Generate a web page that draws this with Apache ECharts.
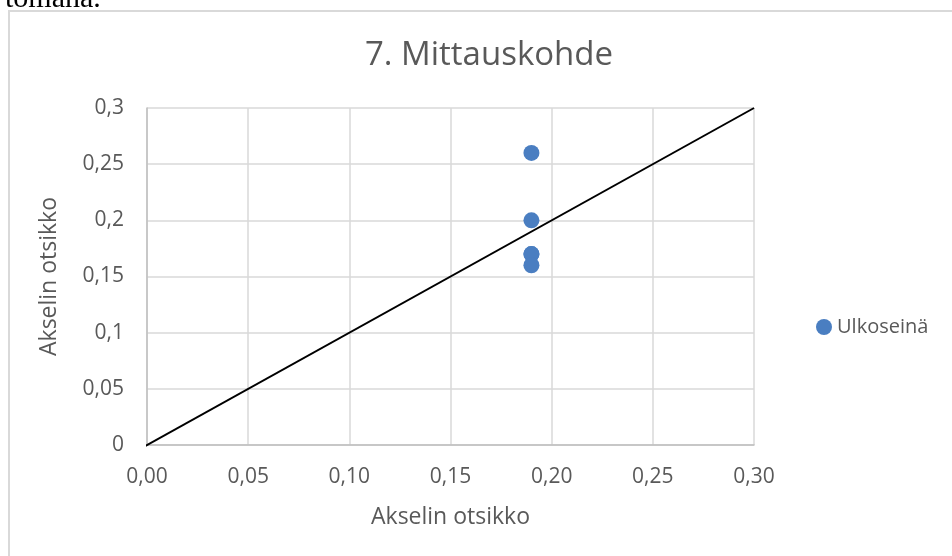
<!DOCTYPE html>
<html>
<head>
<meta charset="utf-8">
<script src="https://cdn.jsdelivr.net/npm/echarts@6/dist/echarts.min.js"></script>
<style>
  html, body { margin: 0; padding: 0; background: #fff; }
  #chart { width: 952px; height: 556px; }
</style>
</head>
<body>
<div id="chart"></div>
<script>
var chartTitle = "7. Mittauskohde";
var seriesName = "Ulkoseinä";
var axisTitle = "Akselin otsikko";

// measured points (x, y)
var pointsX = [0.19, 0.19, 0.19, 0.19, 0.19];
var pointsY = [0.26, 0.2, 0.17, 0.17, 0.16];

// reference line y = x
var diagonal = [[-0.004, -0.004], [0.3, 0.3]];

var xTickLabels = ["0,00", "0,05", "0,10", "0,15", "0,20", "0,25", "0,30"];
var yTickLabels = ["0", "0,05", "0,1", "0,15", "0,2", "0,25", "0,3"];

document.addEventListener("DOMContentLoaded", function () {
  var chart = echarts.init(document.getElementById("chart"));

  var points = pointsX.map(function (x, i) { return [x, pointsY[i]]; });
  var textColor = "#595959";
  var font = "'Open Sans', 'Noto Sans', sans-serif";

  var option = {
    backgroundColor: "#fff",
    animation: false,
    textStyle: { fontFamily: font },
    graphic: [
      {
        type: "text",
        left: 5, top: -16,
        style: { text: "tomana.", font: "30px 'Liberation Serif', serif", fill: "#000" }
      },
      {
        type: "rect",
        shape: { x: 9, y: 11, width: 1000, height: 600 },
        style: { fill: "none", stroke: "#d9d9d9", lineWidth: 2 },
        silent: true
      }
    ],
    title: {
      text: chartTitle,
      left: 484, textAlign: "center",
      top: 34,
      textStyle: { color: textColor, fontSize: 33, fontWeight: "normal", fontFamily: font }
    },
    legend: {
      data: [seriesName],
      left: 811, top: 312,
      icon: "circle",
      itemWidth: 16, itemHeight: 16,
      textStyle: { color: textColor, fontSize: 20, fontFamily: font }
    },
    grid: { left: 147, right: 198, top: 108, bottom: 111 },
    xAxis: {
      type: "value",
      min: 0, max: 0.3, interval: 0.05,
      name: axisTitle,
      nameLocation: "middle",
      nameGap: 61,
      nameTextStyle: { color: textColor, fontSize: 23, fontFamily: font },
      axisLine: { show: true, lineStyle: { color: "#bfbfbf", width: 1.5 } },
      axisTick: { show: false },
      axisLabel: {
        color: textColor, fontSize: 21, margin: 22,
        formatter: function (v, i) { return xTickLabels[i]; }
      },
      splitLine: { show: true, lineStyle: { color: "#d9d9d9", width: 1.5 } }
    },
    yAxis: {
      type: "value",
      min: 0, max: 0.3, interval: 0.05,
      name: axisTitle,
      nameLocation: "middle",
      nameGap: 86,
      nameTextStyle: { color: textColor, fontSize: 23, fontFamily: font },
      axisLine: { show: true, lineStyle: { color: "#bfbfbf", width: 1.5 } },
      axisTick: { show: false },
      axisLabel: {
        color: textColor, fontSize: 21, margin: 23,
        formatter: function (v, i) { return yTickLabels[i]; }
      },
      splitLine: { show: true, lineStyle: { color: "#d9d9d9", width: 1.5 } }
    },
    series: [
      {
        name: "diagonal",
        type: "line",
        data: diagonal,
        clip: false,
        symbol: "none",
        silent: true,
        lineStyle: { color: "#000", width: 2 },
        z: 3
      },
      {
        name: seriesName,
        type: "scatter",
        data: points,
        symbolSize: 16,
        itemStyle: { color: "#4a7ec1", opacity: 1 },
        z: 4
      }
    ]
  };

  chart.setOption(option);
});
</script>
</body>
</html>
